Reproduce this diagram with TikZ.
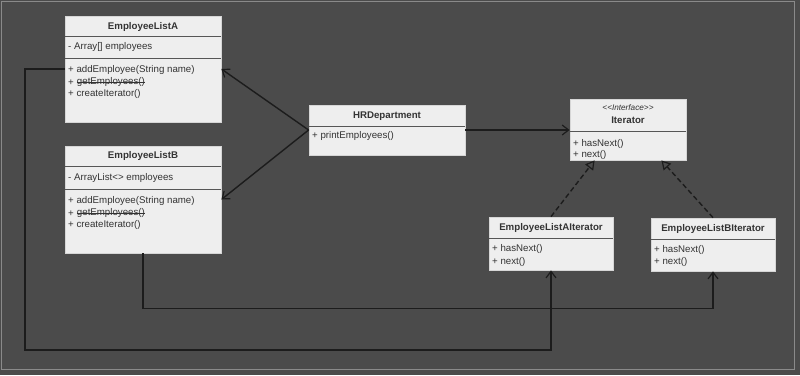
\documentclass[tikz,border=0pt]{standalone}
\usepackage{fontspec}
\setmainfont{Liberation Sans}
\usetikzlibrary{arrows.meta,calc}
\definecolor{bg}{HTML}{4B4B4B}
\definecolor{framec}{HTML}{8A8A8A}
\definecolor{boxfill}{HTML}{EEEEEE}
\definecolor{boxedge}{HTML}{D6D6D6}
\definecolor{sepcol}{HTML}{555555}
\definecolor{txt}{HTML}{333333}
\definecolor{linec}{HTML}{1C1C1C}
\begin{document}
\begin{tikzpicture}[x=1pt,y=-1pt,
  cls/.style={draw=boxedge, fill=boxfill, line width=0.8pt, inner sep=0pt, rectangle},
  sepline/.style={draw=sepcol, line width=1pt},
  ttl/.style={font=\fontsize{9.7}{11}\selectfont\bfseries, text=txt, inner sep=0pt, yshift=-1pt},
  mem/.style={font=\fontsize{9.7}{11}\selectfont, text=txt, anchor=west, inner sep=0pt, yshift=-1.2pt},
  stereo/.style={font=\fontsize{8.2}{10}\selectfont\itshape, text=txt, inner sep=0pt, yshift=-0.8pt},
  strike/.style={draw=txt, line width=0.6pt},
  conn/.style={draw=linec, line width=1.4pt},
  assoc/.style={conn, -{Straight Barb[length=6.5pt,width=10pt,line width=1.2pt]}},
  realiz/.style={conn, dash pattern=on 5pt off 3pt, -{Triangle[open,length=9pt,width=10pt,line width=1.2pt]}}]
\fill[bg] (0,0) rectangle (800,375);
\useasboundingbox (0,0) rectangle (800,375);
\draw[framec, line width=0.8pt] (1.5,1.5) rectangle (794.5,369.5);

% EmployeeListA
\node[cls, minimum width=156pt, minimum height=106pt] (A) at (143,69) {};
\draw[sepline] (65,36) -- (221,36);
\draw[sepline] (65,58) -- (221,58);
\node[ttl] (At) at (143,26) {EmployeeListA};
\node[mem] (Aa) at (68,46) {- Array[] employees};
\node[mem] (Am1) at (68,69) {+ addEmployee(String name)};
\node[mem] (Am2p) at (68,81) {+};
\node[mem, yshift=1.2pt] (Am2) at ($(Am2p.east)+(2.7,0)$) {getEmployees()};
\draw[strike] (Am2.west) -- (Am2.east);
\node[mem] (Am3) at (68,93) {+ createIterator()};

% EmployeeListB
\node[cls, minimum width=156pt, minimum height=107pt] (B) at (143,199.5) {};
\draw[sepline] (65,166) -- (221,166);
\draw[sepline] (65,189) -- (221,189);
\node[ttl] (Bt) at (143,155) {EmployeeListB};
\node[mem] (Ba) at (68,177) {- ArrayList<> employees};
\node[mem] (Bm1) at (68,200) {+ addEmployee(String name)};
\node[mem] (Bm2p) at (68,212) {+};
\node[mem, yshift=1.2pt] (Bm2) at ($(Bm2p.east)+(2.7,0)$) {getEmployees()};
\draw[strike] (Bm2.west) -- (Bm2.east);
\node[mem] (Bm3) at (68,224) {+ createIterator()};

% HRDepartment
\node[cls, minimum width=156pt, minimum height=50pt] (HR) at (387,130) {};
\draw[sepline] (309,126) -- (465,126);
\node[ttl] (HRt) at (387,115) {HRDepartment};
\node[mem] (HRm) at (312,135) {+ printEmployees()};

% Iterator
\node[cls, minimum width=116pt, minimum height=61pt] (It) at (628,129.5) {};
\draw[sepline] (570,131) -- (686,131);
\node[stereo] (Its) at (628,107) {<\kern0pt<Interface>\kern0pt>};
\node[ttl] (Itt) at (628,119) {Iterator};
\node[mem] (Itm1) at (573,143) {+ hasNext()};
\node[mem] (Itm2) at (573,154) {+ next()};

% EmployeeListAIterator
\node[cls, minimum width=124pt, minimum height=53pt] (AI) at (551,243.5) {};
\draw[sepline] (489,238) -- (613,238);
\node[ttl] (AIt) at (551,227) {EmployeeListAIterator};
\node[mem] (AIm1) at (492,248) {+ hasNext()};
\node[mem] (AIm2) at (492,261) {+ next()};

% EmployeeListBIterator
\node[cls, minimum width=124pt, minimum height=53pt] (BI) at (713,244.5) {};
\draw[sepline] (651,239) -- (775,239);
\node[ttl] (BIt) at (713,228) {EmployeeListBIterator};
\node[mem] (BIm1) at (654,249) {+ hasNext()};
\node[mem] (BIm2) at (654,261) {+ next()};

% connectors
\draw[assoc] (HR.west) -- (A.east);
\draw[assoc] (HR.west) -- (B.east);
\draw[assoc] (HR.east) -- (HR.east -| It.west);
\draw[realiz] (AI.north) -- ($(It.south west)+(25,0)$);
\draw[realiz] (BI.north) -- ($(It.south east)+(-25,0)$);
\coordinate (c1) at (25,350);
\draw[assoc] (A.west) -| (c1) -| (AI.south);
\draw[assoc] (B.south) -- ++(0,55) -| (BI.south);
\end{tikzpicture}
\end{document}
